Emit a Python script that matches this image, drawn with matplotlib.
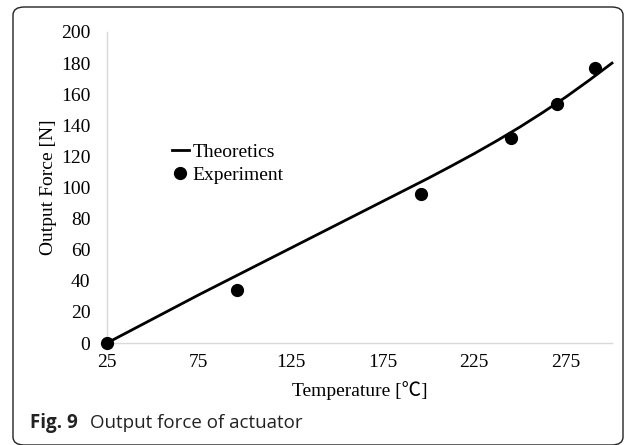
import matplotlib
matplotlib.use("Agg")
import matplotlib.pyplot as plt
from matplotlib.patches import FancyBboxPatch

# Theoretical output force vs temperature
theory_temp = [25, 50, 75, 100, 125, 150, 175, 200, 212.5, 225, 237.5,
               250, 262.5, 275, 287.5, 300]
theory_force = [0, 15.5, 31, 46, 61, 76, 91, 106, 113.8, 121.8, 130.2,
                139, 148.4, 158.3, 168.9, 180]

# Experimental measurements
exp_temp = [25, 96, 196, 245, 270, 291]
exp_force = [0, 34, 96, 132, 154, 177]

x_ticks = [25, 75, 125, 175, 225, 275]
y_ticks = list(range(0, 201, 20))

W, H = 634, 445
SERIF = ["Liberation Serif", "DejaVu Serif"]

fig = plt.figure(figsize=(W / 100, H / 100), dpi=100)
fig.patch.set_facecolor("white")

# rounded frame around the whole figure
frame = FancyBboxPatch((13 / W, 0 / H), (623 - 13) / W, 438 / H,
                       boxstyle="round,pad=0,rounding_size=0.018",
                       transform=fig.transFigure, facecolor="none",
                       edgecolor="#222222", linewidth=1.0, zorder=0)
fig.patches.append(frame)

left, right, top, bottom = 107, 612, 32, 343
ax = fig.add_axes([left / W, 1 - bottom / H, (right - left) / W, (bottom - top) / H])

ax.plot(theory_temp, theory_force, color="black", linewidth=2.0,
        label="Theoretics", zorder=3, clip_on=False, solid_joinstyle="round")
ax.plot(exp_temp, exp_force, linestyle="none", marker="o", markersize=8.5,
        color="black", label="Experiment", zorder=4, clip_on=False)

ax.set_xlim(25, 300)
ax.set_ylim(0, 200)
ax.set_xticks(x_ticks)
ax.set_yticks(y_ticks)
ax.tick_params(length=0, labelsize=14)
ax.tick_params(axis="y", pad=12)
ax.tick_params(axis="x", pad=8)
for lbl in ax.get_xticklabels() + ax.get_yticklabels():
    lbl.set_family(SERIF)

for side in ["top", "right"]:
    ax.spines[side].set_visible(False)
for side in ["left", "bottom"]:
    ax.spines[side].set_color("#d9d9d9")
    ax.spines[side].set_linewidth(1.0)

ax.set_xlabel("Temperature [℃]", fontsize=14,
              family=["Liberation Serif", "Noto Sans CJK JP", "DejaVu Sans"], labelpad=7)
ax.set_ylabel("Output Force [N]", fontsize=14, family=SERIF, labelpad=3)

ax.legend(loc="upper left", bbox_to_anchor=(172 / W, 1 - 143 / H),
          bbox_transform=fig.transFigure, frameon=False, borderpad=0,
          borderaxespad=0, handlelength=0.85, handletextpad=0.2,
          labelspacing=0.3, prop={"family": SERIF, "size": 14})

# caption
fig.text(30 / W, 1 - 423 / H, "Fig. 9", fontsize=13.5, fontweight="bold",
         family="Open Sans", va="center", ha="left", color="#222222")
fig.text(90 / W, 1 - 423 / H, "Output force of actuator", fontsize=13.5,
         family="Open Sans", va="center", ha="left", color="#222222")

fig.savefig("out.png", dpi=100)
